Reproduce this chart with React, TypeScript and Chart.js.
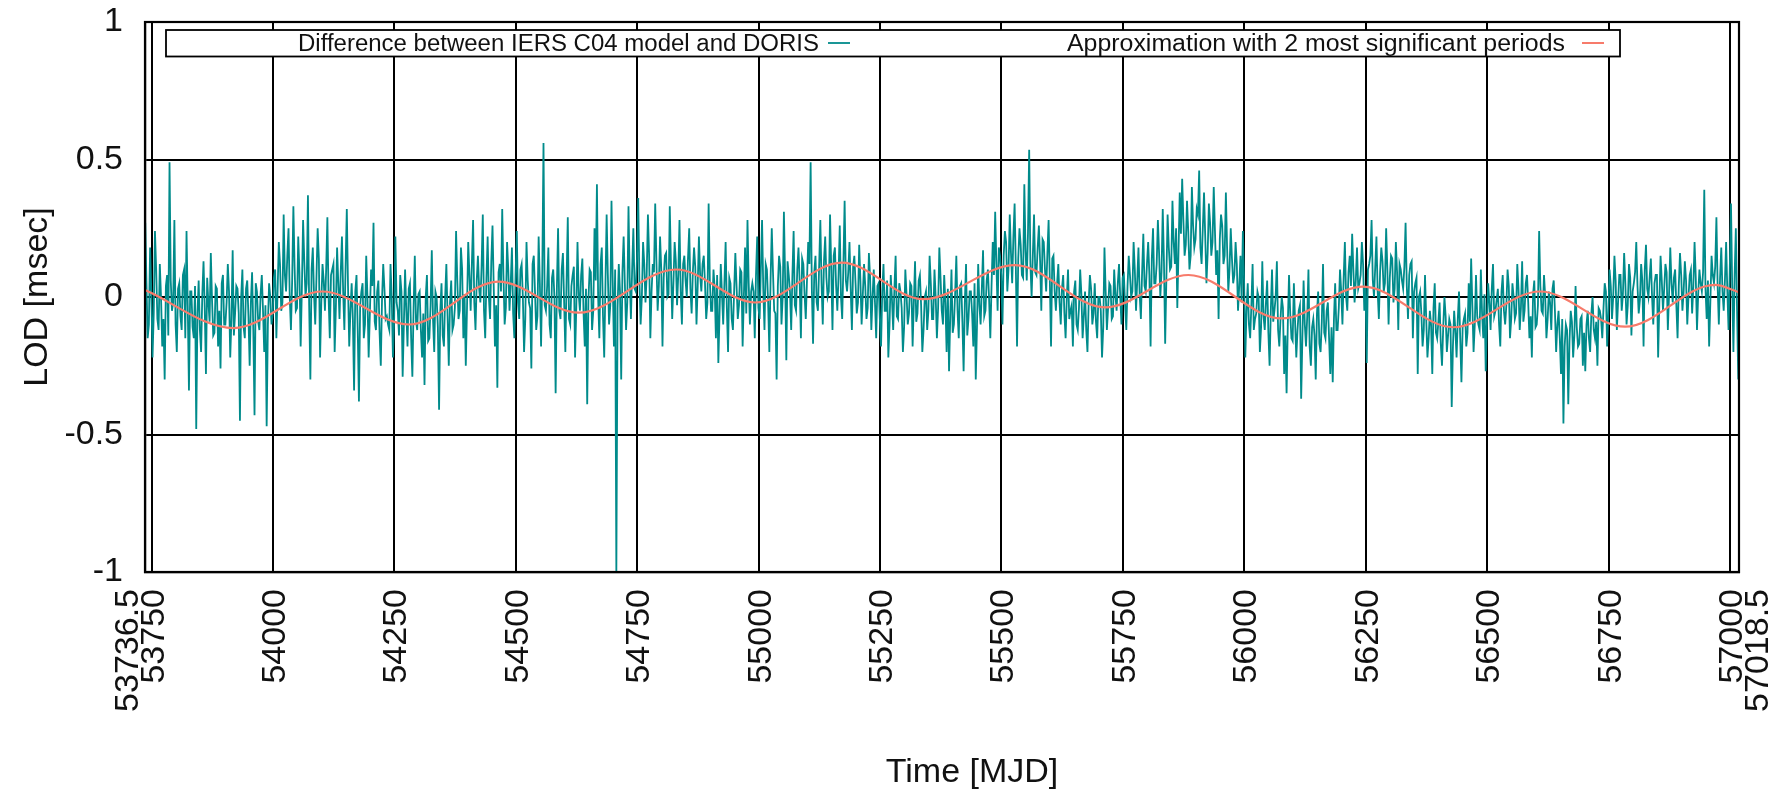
import React, { useEffect, useRef } from 'react';
import { Chart, registerables } from 'chart.js';

Chart.register(...registerables);

// ---------------- data ----------------
const xMin = 53736.5;
const xMax = 57018.5;
const xTickValues = [53736.5, 53750, 54000, 54250, 54500, 54750, 55000, 55250, 55500, 55750, 56000, 56250, 56500, 56750, 57000, 57018.5];
const xTickLabels = ['53736.5', '53750', '54000', '54250', '54500', '54750', '55000', '55250', '55500', '55750', '56000', '56250', '56500', '56750', '57000', '57018.5'];
const yTickValues = [-1, -0.5, 0, 0.5, 1];

const seriesLabels = ['Difference between IERS C04 model and DORIS', 'Approximation with 2 most significant periods'];

// LOD difference, read every 5 days from MJD 53737 (extremes) ...
const lodStart = 53737;
const lodStep = 5;
const lod1 = [0.27, -0.15, 0.18, -0.22, 0.24, -0.08, 0.12, -0.18, -0.30, 0.08,
  0.49, -0.05, 0.28, -0.20, 0.05, -0.12, 0.10, 0.24, -0.34, 0.02,
  -0.15, -0.48, 0.06, -0.20, 0.13, -0.28, -0.02, 0.16, -0.14, 0.04,
  -0.18, -0.26, 0.08, -0.10, 0.12, -0.22, 0.17, -0.06, 0.03, -0.45,
  0.10, -0.15, 0.06, -0.25, 0.09, -0.43, 0.02, -0.12, 0.08, -0.20];
const lod2 = [-0.47, 0.05, -0.10, 0.07, -0.15, 0.20, -0.05, 0.30, 0.02, 0.25,
  -0.12, 0.33, -0.05, 0.22, -0.18, 0.28, 0.00, 0.37, -0.30, 0.18,
  -0.10, 0.25, -0.22, 0.12, -0.05, 0.29, -0.15, 0.10, -0.20, 0.18,
  -0.08, 0.22, -0.12, 0.32, -0.18, 0.05, -0.34, 0.08, -0.38, 0.02,
  -0.15, 0.15, -0.22, 0.10, 0.27, -0.12, 0.06, -0.25, 0.12, -0.08];
const lod3 = [-0.10, 0.12, -0.22, 0.22, -0.05, 0.08, -0.29, 0.10, -0.18, 0.05,
  -0.29, 0.15, -0.12, 0.02, -0.22, -0.32, 0.08, -0.15, 0.17, -0.20,
  0.00, -0.41, 0.05, -0.18, 0.12, -0.25, 0.06, -0.10, 0.24, -0.08,
  0.18, -0.15, -0.25, 0.20, -0.05, 0.28, -0.12, 0.15, -0.02, 0.30,
  -0.15, 0.22, -0.08, 0.26, -0.18, -0.33, 0.12, 0.32, -0.10, 0.20];
const lod4 = [-0.05, 0.18, -0.15, 0.24, -0.08, 0.12, -0.20, 0.20, -0.02, -0.26,
  0.15, -0.12, 0.22, -0.18, 0.56, -0.05, 0.18, -0.15, 0.10, -0.35,
  0.25, -0.08, 0.16, -0.20, 0.29, -0.10, 0.08, -0.22, 0.20, -0.05,
  0.14, -0.18, -0.39, 0.10, -0.12, 0.25, 0.41, -0.15, 0.18, -0.22,
  0.30, -0.10, 0.35, -0.18, -1.00, 0.12, -0.30, 0.22, -0.12, 0.33];
const lod5 = [-0.08, 0.25, 0.02, 0.36, -0.10, 0.20, -0.02, 0.30, -0.15, 0.12,
  0.34, -0.05, 0.22, -0.18, 0.15, 0.00, 0.33, -0.08, 0.20, -0.03,
  0.28, -0.10, 0.15, 0.00, 0.25, -0.06, 0.18, -0.10, 0.22, 0.02,
  0.15, -0.08, 0.34, -0.05, 0.10, -0.15, -0.24, 0.12, -0.10, 0.20,
  -0.20, 0.05, -0.12, 0.16, -0.08, 0.10, -0.18, 0.18, 0.28, -0.10];
const lod6 = [0.05, -0.15, 0.22, -0.08, 0.28, -0.12, 0.10, -0.20, 0.25, -0.05,
  -0.30, 0.15, -0.10, 0.31, -0.23, 0.08, -0.12, 0.24, -0.05, 0.18,
  -0.15, 0.12, -0.08, 0.20, 0.49, -0.17, 0.15, -0.05, 0.28, -0.10,
  0.22, 0.00, 0.30, -0.12, 0.18, -0.05, 0.26, -0.08, 0.35, 0.02,
  0.20, -0.12, 0.15, -0.06, 0.19, -0.10, 0.12, -0.08, 0.16, -0.12];
const lod7 = [0.10, -0.15, 0.05, -0.18, 0.12, -0.05, -0.22, 0.08, -0.12, 0.15,
  -0.08, 0.02, -0.20, 0.10, -0.10, 0.05, -0.18, 0.13, -0.06, 0.08,
  -0.20, 0.00, -0.12, 0.15, -0.08, 0.10, -0.15, 0.18, -0.05, 0.08,
  -0.20, -0.27, 0.10, -0.10, 0.15, -0.15, 0.05, -0.27, 0.12, -0.08,
  0.02, -0.18, -0.30, 0.12, -0.10, 0.17, -0.05, 0.10, -0.15, 0.20];
const lod8 = [0.31, -0.05, 0.15, -0.10, 0.24, 0.02, 0.30, 0.05, 0.34, -0.18,
  0.25, 0.08, 0.41, 0.06, 0.535, 0.00, 0.30, 0.08, 0.26, -0.05,
  0.20, 0.02, 0.28, -0.18, 0.15, -0.05, 0.12, -0.10, 0.08, -0.15,
  0.10, -0.05, -0.18, 0.06, -0.12, 0.10, -0.15, 0.02, -0.20, 0.08,
  -0.10, 0.05, -0.15, 0.00, -0.22, 0.18, -0.12, 0.05, -0.08, 0.10];
const lod9 = [-0.05, 0.12, -0.10, 0.08, -0.12, 0.15, 0.00, 0.20, -0.05, 0.18,
  -0.08, 0.23, 0.02, 0.20, -0.18, 0.25, 0.05, 0.28, 0.00, 0.32,
  -0.17, 0.30, 0.10, 0.35, 0.12, -0.04, 0.38, 0.43, 0.15, 0.35,
  0.10, 0.40, 0.18, 0.32, 0.46, 0.12, 0.38, 0.05, 0.34, 0.15,
  0.40, 0.08, -0.08, 0.30, 0.12, 0.38, 0.02, 0.25, 0.05, 0.20];
const lod10 = [-0.05, 0.15, 0.24, -0.22, 0.05, -0.15, 0.12, -0.08, 0.02, -0.20,
  0.13, -0.12, 0.06, -0.25, 0.10, -0.05, 0.13, -0.18, 0.00, -0.28,
  -0.35, 0.08, -0.15, 0.05, -0.22, -0.05, -0.37, 0.06, -0.18, 0.10,
  -0.25, -0.08, -0.30, 0.02, -0.20, 0.12, -0.15, -0.02, -0.28, -0.31,
  0.05, -0.12, 0.10, -0.10, 0.20, -0.05, 0.15, 0.23, -0.02, 0.18];
const lod11 = [0.05, 0.20, -0.05, -0.24, 0.12, 0.28, 0.00, 0.22, -0.08, 0.18,
  0.02, 0.25, -0.10, 0.15, -0.02, 0.20, -0.12, 0.10, 0.03, 0.27,
  -0.08, 0.12, -0.15, 0.05, -0.28, 0.02, -0.18, 0.08, -0.22, -0.05,
  -0.28, 0.05, -0.15, -0.02, -0.25, 0.00, -0.20, -0.08, -0.40, -0.05,
  -0.22, 0.02, -0.31, -0.08, -0.18, 0.05, 0.14, -0.20, 0.08, -0.10];
const lod12 = [0.10, -0.15, -0.27, 0.05, -0.12, 0.12, -0.05, 0.03, -0.18, 0.08,
  -0.10, 0.10, -0.15, 0.05, -0.08, 0.12, -0.12, 0.13, -0.05, 0.08,
  -0.15, -0.22, 0.06, -0.10, 0.24, -0.05, 0.08, -0.15, 0.02, -0.12,
  0.06, -0.20, -0.05, -0.28, -0.46, -0.10, -0.39, -0.05, -0.22, 0.04,
  -0.18, -0.08, -0.25, -0.27, -0.05, -0.20, 0.00, -0.15, -0.25, -0.05];
const lod13 = [-0.15, 0.05, -0.18, 0.10, -0.08, 0.15, -0.12, 0.08, -0.05, 0.16,
  -0.10, 0.12, -0.14, 0.05, 0.20, -0.06, 0.12, -0.18, 0.19, 0.00,
  0.14, -0.10, 0.08, -0.22, 0.15, -0.05, 0.12, -0.12, 0.18, -0.02,
  0.10, -0.15, 0.16, -0.05, 0.13, -0.10, 0.08, -0.06, 0.20, -0.12,
  0.10, 0.02, 0.39, -0.08, -0.18, 0.15, 0.05, 0.29, -0.10, 0.18];
const lod14 = [-0.05, 0.20, -0.12, 0.34, -0.20, 0.25, -0.30];

// ... and the dense core in between (MJD 53739.5 + 5 i)
const mid1 = [0.05, -0.10, 0.02, -0.06, 0.10, -0.12, 0.00, -0.08, 0.04, -0.14,
  0.06, -0.02, -0.10, 0.03, -0.07, 0.08, -0.15, -0.03, 0.02, -0.11,
  0.04, -0.06, -0.12, 0.01, -0.04, 0.07, -0.09, -0.01, -0.13, 0.03,
  -0.05, 0.05, -0.10, -0.02, 0.02, -0.08, -0.14, 0.04, -0.06, 0.00,
  -0.11, 0.03, -0.07, -0.02, -0.12, 0.05, -0.09, 0.01, -0.05, -0.03];
const mid2 = [-0.10, 0.00, -0.06, 0.10, 0.02, 0.12, -0.02, 0.08, 0.15, 0.00,
  0.06, 0.11, -0.04, 0.09, 0.03, 0.13, 0.05, -0.03, 0.10, 0.01,
  0.07, 0.14, -0.02, 0.06, 0.10, 0.00, 0.08, 0.12, -0.04, 0.05,
  0.09, 0.02, 0.11, 0.04, -0.05, -0.08, 0.02, -0.12, -0.03, 0.05,
  -0.10, 0.00, -0.06, 0.04, -0.09, 0.02, -0.13, -0.01, 0.03, -0.07];
const mid3 = [-0.12, 0.00, -0.08, -0.02, -0.14, 0.02, -0.10, -0.05, 0.03, -0.15,
  -0.04, -0.09, 0.01, -0.12, -0.06, 0.00, -0.16, -0.03, -0.08, 0.02,
  -0.11, -0.05, -0.14, 0.00, -0.07, -0.02, -0.12, -0.04, 0.06, -0.05,
  0.10, 0.01, -0.04, 0.08, 0.12, -0.02, 0.06, 0.03, 0.11, -0.05,
  0.07, 0.00, 0.13, 0.04, -0.03, 0.09, 0.02, 0.08, -0.04, 0.10];
const mid4 = [0.05, -0.06, 0.08, -0.02, 0.10, 0.00, -0.08, 0.06, -0.04, 0.12,
  0.02, -0.07, 0.05, 0.09, -0.03, 0.04, -0.10, 0.07, 0.00, 0.03,
  -0.05, 0.10, -0.02, 0.06, -0.08, 0.04, 0.11, -0.04, 0.01, 0.08,
  -0.06, 0.03, -0.01, 0.09, -0.05, 0.06, 0.00, 0.12, -0.07, 0.04,
  0.08, -0.03, 0.06, 0.10, -0.04, 0.02, 0.09, 0.05, -0.02, 0.07];
const mid5 = [0.10, 0.03, 0.14, 0.06, 0.00, 0.12, 0.08, 0.15, 0.02, 0.09,
  0.13, 0.04, 0.10, 0.07, 0.16, 0.01, 0.11, 0.05, 0.13, 0.08,
  0.02, 0.12, 0.06, 0.14, 0.03, 0.09, 0.11, 0.04, 0.08, 0.12,
  0.05, -0.02, 0.06, -0.05, 0.03, 0.08, -0.06, 0.01, 0.05, -0.04,
  0.07, -0.08, 0.02, 0.04, -0.03, 0.09, 0.00, -0.06, 0.05, 0.02];
const mid6 = [0.02, 0.08, -0.04, 0.10, 0.03, 0.12, -0.02, 0.06, 0.09, -0.06,
  0.04, 0.11, 0.00, 0.07, 0.13, 0.02, 0.08, -0.03, 0.10, 0.05,
  0.14, 0.01, 0.06, 0.12, 0.03, 0.09, -0.02, 0.11, 0.05, 0.13,
  0.07, 0.02, 0.10, 0.15, 0.04, 0.08, 0.00, 0.12, 0.06, 0.09,
  0.03, 0.11, 0.05, -0.02, 0.06, 0.01, 0.04, -0.04, 0.07, 0.00];
const mid7 = [-0.02, 0.04, -0.08, 0.02, -0.05, 0.06, -0.10, -0.01, 0.03, -0.07,
  0.05, -0.04, -0.11, 0.01, -0.06, 0.04, -0.02, -0.09, 0.06, -0.03,
  -0.12, 0.02, -0.05, 0.05, -0.08, 0.00, -0.04, 0.07, -0.10, -0.02,
  0.03, -0.07, -0.13, 0.01, -0.05, 0.04, -0.09, -0.02, -0.14, 0.02,
  -0.06, 0.05, -0.11, -0.03, 0.03, -0.07, 0.06, -0.01, 0.04, 0.08];
const mid8 = [0.12, 0.18, 0.08, 0.15, 0.20, 0.10, 0.16, 0.22, 0.11, 0.14,
  0.19, 0.07, 0.17, 0.23, 0.12, 0.15, 0.09, 0.18, 0.13, 0.21,
  0.10, 0.16, 0.06, 0.14, 0.02, 0.05, -0.02, 0.03, -0.06, 0.00,
  -0.08, -0.03, 0.02, -0.10, -0.04, 0.01, -0.07, -0.12, -0.02, 0.03,
  -0.06, -0.09, 0.00, -0.05, -0.11, 0.02, -0.04, 0.04, -0.07, 0.01];
const mid9 = [0.05, 0.00, 0.07, -0.03, 0.04, 0.08, 0.02, 0.10, 0.06, 0.01,
  0.09, 0.04, 0.12, 0.08, 0.14, 0.05, 0.12, 0.16, 0.09, 0.13,
  0.07, 0.18, 0.11, 0.20, 0.25, 0.17, 0.23, 0.28, 0.19, 0.24,
  0.15, 0.26, 0.21, 0.30, 0.18, 0.25, 0.22, 0.16, 0.27, 0.20,
  0.24, 0.17, 0.21, 0.26, 0.15, 0.18, 0.10, 0.14, 0.08, 0.12];
const mid10 = [0.04, -0.02, 0.06, -0.05, -0.10, -0.03, -0.12, -0.06, 0.00, -0.11,
  -0.07, -0.02, -0.13, -0.05, -0.09, 0.00, -0.12, -0.08, -0.04, -0.14,
  -0.10, -0.06, -0.16, -0.09, -0.12, -0.03, -0.15, -0.10, -0.07, -0.18,
  -0.11, -0.14, -0.06, -0.17, -0.09, -0.13, -0.05, -0.15, -0.11, -0.08,
  -0.12, -0.04, 0.02, 0.07, 0.00, 0.09, 0.04, 0.10, 0.06, 0.03];
const mid11 = [0.08, 0.12, 0.04, 0.10, 0.15, 0.06, 0.11, 0.02, 0.09, 0.13,
  0.05, 0.10, 0.07, 0.14, 0.03, 0.09, 0.12, 0.06, 0.11, 0.04,
  0.08, 0.13, 0.02, 0.07, 0.00, -0.06, -0.12, -0.08, -0.15, -0.10,
  -0.04, -0.13, -0.09, -0.17, -0.11, -0.07, -0.14, -0.10, -0.18, -0.12,
  -0.08, -0.15, -0.11, -0.06, -0.13, -0.09, -0.03, -0.10, -0.07, -0.12];
const mid12 = [-0.06, 0.01, -0.09, -0.02, 0.03, -0.07, -0.01, -0.10, 0.02, -0.05,
  -0.03, 0.04, -0.08, 0.00, -0.06, 0.03, -0.04, -0.09, 0.05, -0.02,
  -0.07, 0.01, -0.11, -0.03, 0.04, -0.06, 0.00, -0.08, -0.02, 0.03,
  -0.05, -0.10, -0.15, -0.08, -0.18, -0.12, -0.16, -0.09, -0.14, -0.11,
  -0.17, -0.07, -0.13, -0.10, -0.15, -0.06, -0.12, -0.09, -0.04, -0.08];
const mid13 = [-0.04, 0.02, -0.06, 0.04, 0.00, 0.06, -0.02, 0.08, 0.01, 0.05,
  -0.03, 0.07, 0.02, 0.09, 0.04, -0.01, 0.06, 0.10, 0.03, 0.07,
  0.00, 0.05, 0.08, -0.02, 0.06, 0.03, 0.09, 0.01, 0.05, 0.07,
  -0.03, 0.04, 0.08, 0.02, 0.06, 0.00, 0.10, 0.04, 0.07, 0.01,
  0.05, 0.09, 0.03, 0.06, -0.02, 0.08, 0.11, 0.04, 0.07, 0.02];
const mid14 = [0.06, 0.02, 0.10, 0.04, 0.08, -0.05];

const lodMain = [lod1, lod2, lod3, lod4, lod5, lod6, lod7, lod8, lod9, lod10, lod11, lod12, lod13, lod14].flat();
const lodMid = [mid1, mid2, mid3, mid4, mid5, mid6, mid7, mid8, mid9, mid10, mid11, mid12, mid13, mid14].flat();

// approximation curve: extrema
const approxMjd = [53736.5, 53919, 54101, 54280, 54464, 54629, 54830, 54993, 55171, 55339, 55528, 55713, 55885, 56077, 56245, 56430, 56609, 56784, 56969, 57018.5];
const approxVal = [0.025, -0.113, 0.02, -0.10, 0.056, -0.057, 0.10, -0.02, 0.125, -0.008, 0.116, -0.038, 0.08, -0.078, 0.038, -0.11, 0.02, -0.108, 0.044, 0.017];

// ---------------- chart ----------------
const FONT = '"Liberation Sans", Arial, Helvetica, sans-serif';
const TEAL = '#008b8b';
const SALMON = '#f77b6b';

const zeroPad = (s: any) => {
  s.paddingTop = 0;
  s.paddingBottom = 0;
  s.paddingLeft = 0;
  s.paddingRight = 0;
};

export default function App() {
  const ref = useRef<HTMLCanvasElement>(null);

  useEffect(() => {
    if (!ref.current) return;
    const lodPoints: { x: number; y: number }[] = [];
    lodMain.forEach((v, i) => {
      lodPoints.push({ x: lodStart + i * lodStep, y: v });
      if (i < lodMid.length) lodPoints.push({ x: lodStart + lodStep / 2 + i * lodStep, y: lodMid[i] });
    });
    const approxPoints = approxMjd.map((x, i) => ({ x, y: approxVal[i] }));

    const overlay = {
      id: 'gnuplotOverlay',
      afterDatasetsDraw(chart: any) {
        const { ctx, chartArea: a, scales } = chart;
        const xs = scales.x;
        ctx.save();
        // frame
        ctx.strokeStyle = '#000';
        ctx.lineWidth = 2.2;
        ctx.strokeRect(a.left, a.top, a.right - a.left, a.bottom - a.top);

        // legend box
        const bx = 166, by = 30, bw = 1620 - 166, bh = 26.5;
        ctx.fillStyle = '#fff';
        ctx.fillRect(bx, by, bw, bh);
        ctx.lineWidth = 1.8;
        ctx.strokeStyle = '#000';
        ctx.strokeRect(bx, by, bw, bh);

        const items = [
          { label: seriesLabels[0], start: 298, end: 819, s0: 828, s1: 850, color: TEAL, w: 1.8 },
          { label: seriesLabels[1], start: 1067, end: 1565, s0: 1582, s1: 1604, color: SALMON, w: 2 },
        ];
        ctx.font = `23px ${FONT}`;
        ctx.textBaseline = 'alphabetic';
        items.forEach((it) => {
          const mw = ctx.measureText(it.label).width;
          const sx = Math.max(0.9, Math.min(1.15, (it.end - it.start) / mw));
          ctx.save();
          ctx.translate(it.end, 50.5);
          ctx.scale(sx, 1);
          ctx.textAlign = 'right';
          ctx.fillStyle = '#111';
          ctx.fillText(it.label, 0, 0);
          ctx.restore();
          ctx.beginPath();
          ctx.strokeStyle = it.color;
          ctx.lineWidth = it.w;
          ctx.moveTo(it.s0, 43);
          ctx.lineTo(it.s1, 43);
          ctx.stroke();
        });

        // x tick labels (rotated)
        ctx.font = `34px ${FONT}`;
        ctx.fillStyle = '#111';
        xTickValues.forEach((v, i) => {
          let px = xs.getPixelForValue(v);
          if (i === 0) px -= 19;
          if (i === xTickValues.length - 1) px += 17;
          ctx.save();
          ctx.translate(px + 12, a.bottom + 17);
          ctx.rotate(-Math.PI / 2);
          ctx.textAlign = 'right';
          ctx.textBaseline = 'alphabetic';
          ctx.fillText(xTickLabels[i], 0, 0);
          ctx.restore();
        });

        // axis titles
        ctx.save();
        ctx.translate(47, (a.top + a.bottom) / 2);
        ctx.rotate(-Math.PI / 2);
        ctx.textAlign = 'center';
        ctx.textBaseline = 'alphabetic';
        ctx.fillText('LOD [msec]', 0, 0);
        ctx.restore();

        ctx.textAlign = 'center';
        ctx.textBaseline = 'alphabetic';
        ctx.fillText('Time [MJD]', 972, 782);
        ctx.restore();
      },
    };

    const chart = new Chart(ref.current, {
      type: 'line',
      data: {
        datasets: [
          {
            label: seriesLabels[1],
            data: approxPoints,
            borderColor: SALMON,
            borderWidth: 2.2,
            pointRadius: 0,
            cubicInterpolationMode: 'monotone',
            fill: false,
            order: 0,
          },
          {
            label: seriesLabels[0],
            data: lodPoints,
            borderColor: TEAL,
            borderWidth: 1.8,
            pointRadius: 0,
            tension: 0,
            fill: false,
            order: 1,
          },
        ],
      },
      options: {
        animation: false,
        responsive: false,
        maintainAspectRatio: false,
        devicePixelRatio: 1,
        layout: { padding: { left: 0, right: 39, top: 22, bottom: 0 } },
        plugins: {
          legend: { display: false },
          tooltip: { enabled: false },
          title: { display: false },
        },
        scales: {
          x: {
            type: 'linear',
            min: xMin,
            max: xMax,
            afterBuildTicks: (s: any) => {
              s.ticks = xTickValues.map((v) => ({ value: v }));
            },
            afterFit: (s: any) => {
              s.height = 222;
              zeroPad(s);
            },
            ticks: { display: false },
            grid: { color: '#000', lineWidth: 2, drawTicks: false },
            border: { display: true, color: '#000', width: 2.2 },
          },
          y: {
            type: 'linear',
            min: -1,
            max: 1,
            afterBuildTicks: (s: any) => {
              s.ticks = yTickValues.map((v) => ({ value: v }));
            },
            afterFit: (s: any) => {
              s.width = 145;
              zeroPad(s);
            },
            ticks: {
              padding: 22,
              color: '#111',
              font: { family: FONT, size: 34 },
              callback: (v: any) => String(v),
            },
            grid: { color: '#000', lineWidth: 2, drawTicks: false },
            border: { display: true, color: '#000', width: 2.2 },
          },
        },
      },
      plugins: [overlay],
    } as any);

    return () => chart.destroy();
  }, []);

  return (
    <div style={{ position: 'absolute', left: 0, top: 0, width: 1778, height: 794, background: '#fff' }}>
      <canvas ref={ref} width={1778} height={794} style={{ display: 'block' }} />
    </div>
  );
}
